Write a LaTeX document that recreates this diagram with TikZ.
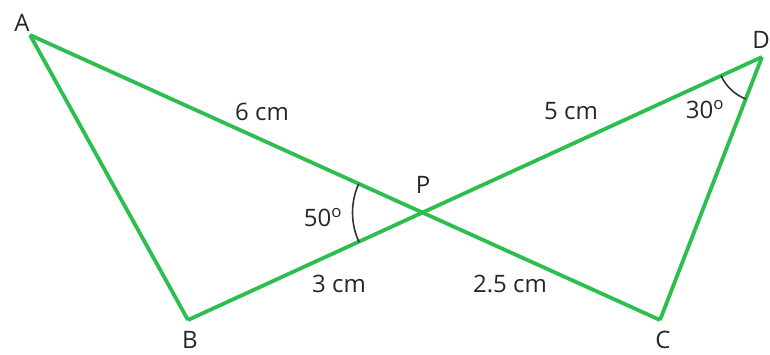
\documentclass[tikz,border=0pt]{standalone}
\usepackage{fontspec}
\setmainfont{Open Sans}
\usepackage{tikz}
\usetikzlibrary{calc}
\definecolor{lineGreen}{HTML}{2EBE50}
\definecolor{labelGrey}{HTML}{262626}

\begin{document}
\begin{tikzpicture}[x=1pt,y=1pt,
    side/.style={lineGreen, line width=3.8pt, line join=round},
    lbl/.style={text=labelGrey, font=\fontsize{24}{28}\selectfont, inner sep=0pt},
    angarc/.style={black!80, line width=1.6pt}]
  \useasboundingbox (0,0) rectangle (770,354);
  % the four end points and the crossing
  \coordinate (A) at (30,319);
  \coordinate (B) at (188,34);
  \coordinate (C) at (660,34);
  \coordinate (D) at (762,297);
  \coordinate (P) at (intersection of A--C and B--D);
  % sides
  \draw[side] (A) -- (C);
  \draw[side] (B) -- (D);
  \draw[side] (A) -- (B);
  \draw[side] (D) -- (C);
  % angle marks
  \draw[angarc] ($(P)+(155.6:70)$) arc[start angle=155.6, end angle=205, radius=70];
  \draw[angarc] ($(D)+(204.4:45)$) arc[start angle=204.4, end angle=248.8, radius=45];
  % vertex names
  \node[lbl] (labA) at (22,331) {A};
  \node[lbl] (labB) at (190,14) {B};
  \node[lbl] (labC) at (663,14) {C};
  \node[lbl] (labD) at (761,314) {D};
  \node[lbl] (labP) at (423,169) {P};
  % lengths and angles
  \node[lbl] (lenAP) at (262,242) {6 cm};
  \node[lbl] (lenDP) at (571,243) {5 cm};
  \node[lbl] (lenBP) at (339,70) {3 cm};
  \node[lbl] (lenCP) at (510,70) {2.5 cm};
  \node[lbl] (angP) at (323,136) {50\textsuperscript{o}};
  \node[lbl] (angD) at (705,244) {30\textsuperscript{o}};
\end{tikzpicture}
\end{document}
